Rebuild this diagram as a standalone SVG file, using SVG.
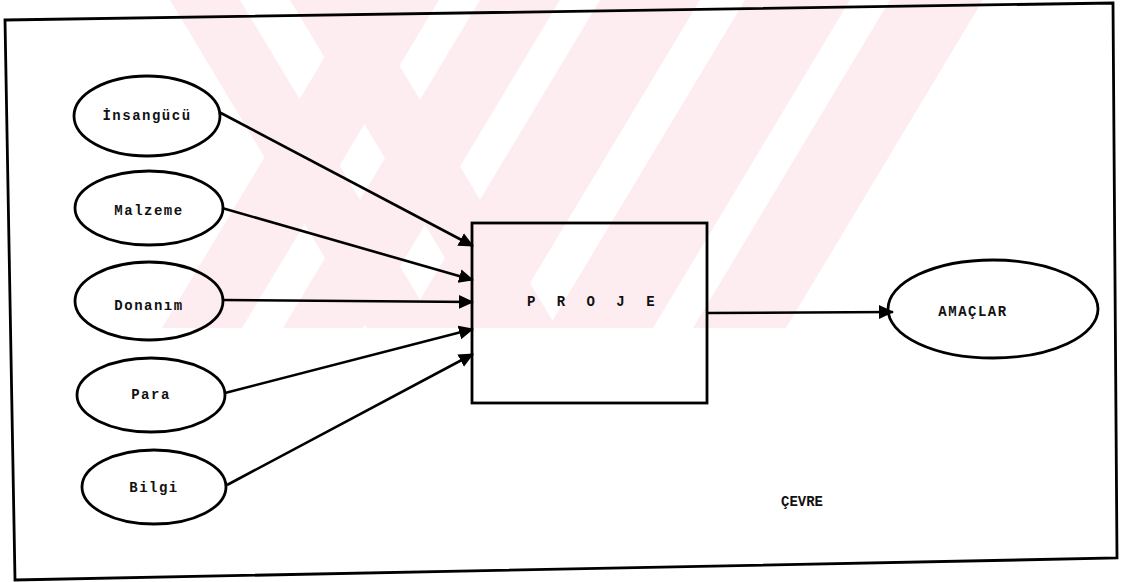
<svg xmlns="http://www.w3.org/2000/svg" width="1128" height="582" viewBox="0 0 1128 582">
  <style>
    .wm { fill: #fdedf0; }
    .node { fill: none; stroke: #000; stroke-width: 2.8; }
    .lbl { font-family: "Liberation Mono", "DejaVu Sans Mono", monospace; font-weight: bold; font-size: 14px; fill: #111; text-anchor: middle; letter-spacing: 1.5px; }
    .edge { stroke: #000; stroke-width: 2.6; fill: none; }
  </style>
  <defs>
    <marker id="ah" markerUnits="userSpaceOnUse" markerWidth="16" markerHeight="16" refX="14" refY="8" orient="auto">
      <path d="M0,1 L15,8 L0,15 Z" fill="#000"/>
    </marker>
    <clipPath id="wmclip"><rect x="0" y="0" width="1128" height="328"/></clipPath>
  </defs>
  <rect x="0" y="0" width="1128" height="582" fill="#fff"/>
  <g id="watermark" clip-path="url(#wmclip)">
    <polygon class="wm" points="170,0 240,0 437,328 367,328"/>
    <polygon class="wm" points="290,0 360,0 557,328 487,328"/>
    <polygon class="wm" points="359,0 439,0 242,328 162,328"/>
    <polygon class="wm" points="480,0 560,0 363,328 283,328"/>
    <polygon class="wm" points="600,0 700,0 503,328 403,328"/>
    <polygon class="wm" points="745,0 850,0 653,328 548,328"/>
    <polygon class="wm" points="890,0 983,0 786,328 693,328"/>
  </g>
  <polygon id="frame" points="5,20 1113,3 1117,558 15,580" fill="none" stroke="#000" stroke-width="2.8"/>
  <g id="connectors">
    <line class="edge" x1="219" y1="112" x2="473" y2="246" marker-end="url(#ah)"/>
    <line class="edge" x1="222" y1="208" x2="473" y2="280" marker-end="url(#ah)"/>
    <line class="edge" x1="223" y1="300" x2="473" y2="302" marker-end="url(#ah)"/>
    <line class="edge" x1="225" y1="393" x2="473" y2="329" marker-end="url(#ah)"/>
    <line class="edge" x1="227" y1="485" x2="473" y2="354" marker-end="url(#ah)"/>
    <line class="edge" x1="707" y1="313" x2="893" y2="312" marker-end="url(#ah)"/>
  </g>
  <g id="insangucu">
    <ellipse class="node" cx="147" cy="116" rx="73" ry="40" fill="#fff"/>
    <text class="lbl" x="147" y="120">İnsangücü</text>
  </g>
  <g id="malzeme">
    <ellipse class="node" cx="149" cy="208" rx="74" ry="37"/>
    <text class="lbl" x="149" y="215">Malzeme</text>
  </g>
  <g id="donanim">
    <ellipse class="node" cx="149" cy="301" rx="74" ry="39"/>
    <text class="lbl" x="149" y="310">Donanım</text>
  </g>
  <g id="para">
    <ellipse class="node" cx="151" cy="395" rx="74" ry="37"/>
    <text class="lbl" x="151" y="399">Para</text>
  </g>
  <g id="bilgi">
    <ellipse class="node" cx="154" cy="487" rx="72" ry="37"/>
    <text class="lbl" x="154" y="492">Bilgi</text>
  </g>
  <g id="proje">
    <rect class="node" x="472" y="223" width="235" height="180"/>
    <text class="lbl" x="594" y="306" style="letter-spacing:6.5px">P R O J E</text>
  </g>
  <g id="amaclar">
    <ellipse class="node" cx="993" cy="309" rx="105" ry="49"/>
    <text class="lbl" x="973" y="316">AMAÇLAR</text>
  </g>
  <g id="cevre">
    <text class="lbl" x="802" y="506" style="letter-spacing:0px">ÇEVRE</text>
  </g>
</svg>
